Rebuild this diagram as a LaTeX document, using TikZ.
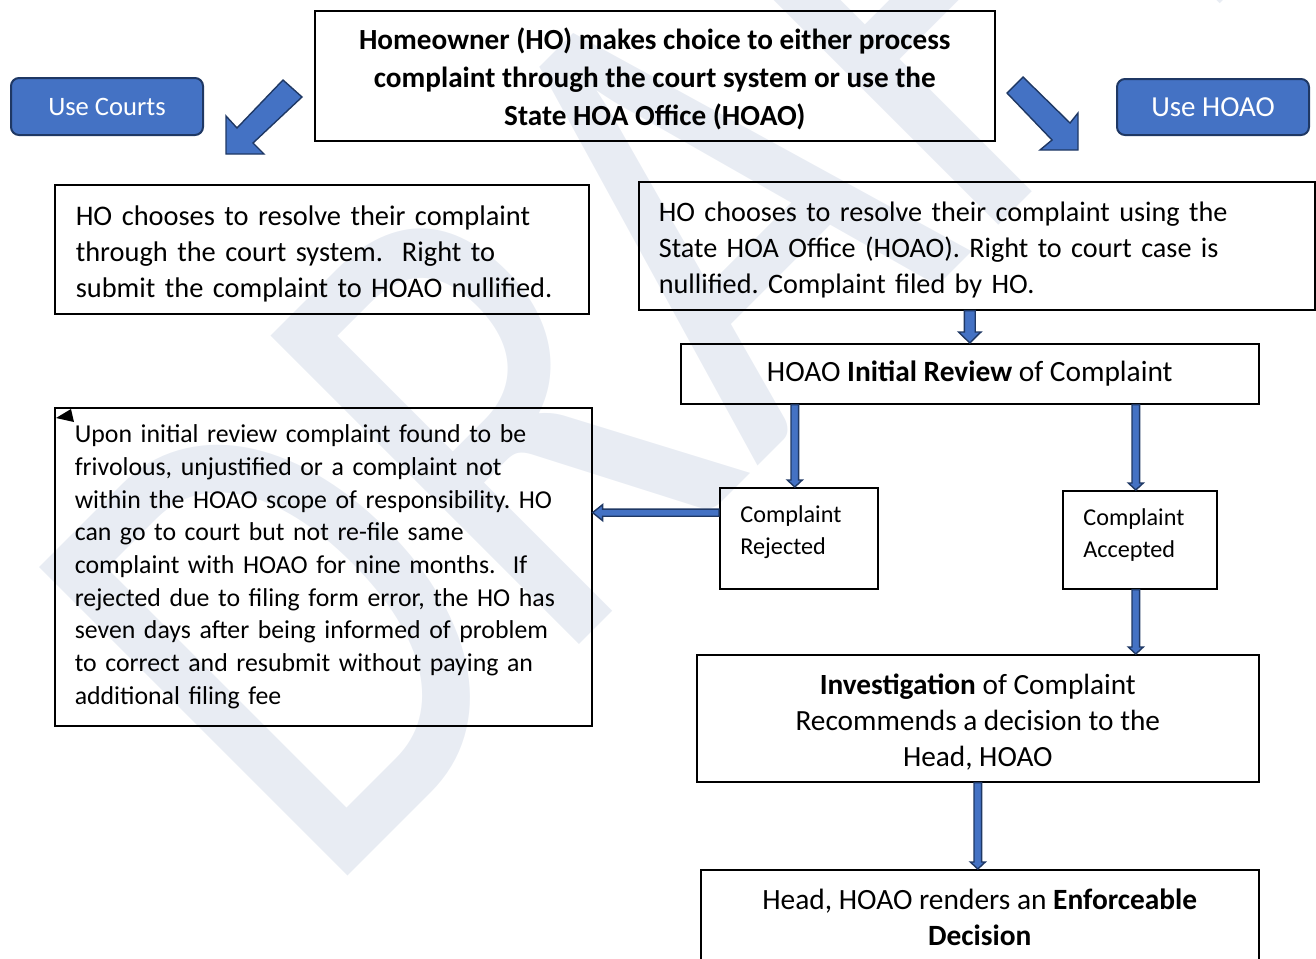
\documentclass[tikz,border=0pt]{standalone}
\usepackage{fontspec}
\setmainfont{Carlito}
\newfontfamily\wmfont{Carlito}
\frenchspacing
\usetikzlibrary{calc}
\definecolor{wordblue}{HTML}{4472C4}
\definecolor{navy}{HTML}{1F3864}
\definecolor{wmcol}{HTML}{E8ECF3}
\newcommand\tstrut{\rule{0pt}{14pt}}
\newcommand\vArrow[6]{\draw[barrow] let \p1=#1, \p2=#2, \p3=#3 in
  (\x1-#4,\y2) -- (\x1-#4,\y3+#6) -- (\x1-#5,\y3+#6) -- (\x1,\y3) -- (\x1+#5,\y3+#6) -- (\x1+#4,\y3+#6) -- (\x1+#4,\y2) -- cycle;}
\newcommand\hArrow[6]{\draw[barrow] let \p1=#1, \p2=#2, \p3=#3 in
  (\x2,\y1-#4) -- (\x3+#6,\y1-#4) -- (\x3+#6,\y1-#5) -- (\x3,\y1) -- (\x3+#6,\y1+#5) -- (\x3+#6,\y1+#4) -- (\x2,\y1+#4) -- cycle;}
\tikzset{
  barrow/.style={fill=wordblue, draw=navy, line width=0.7pt, line join=miter},
  box/.style={draw=black, line width=0.8pt, inner sep=0pt, anchor=north west},
  pill/.style={fill=wordblue, draw=navy, line width=1pt, rounded corners=4pt, text=white,
     anchor=north west, inner sep=0pt},
  smalltxt/.style={font=\fontsize{12.1}{16}\selectfont, align=left, anchor=north west, inner sep=0pt},
}
\begin{document}
\begin{tikzpicture}[x=0.5pt,y=-0.5pt]
\useasboundingbox (0,0) rectangle (1316,958);
\clip (0,0) rectangle (1316,958);
% watermark
\node[rotate=45, xscale=0.78, anchor=base west, text=wmcol, inner sep=0pt, font=\wmfont\fontsize{340}{340}\selectfont] (wm) at (322,902) {DRAFT};

% top box
\node[box, minimum width=340pt, minimum height=65pt, align=center, font=\bfseries\fontsize{14.6}{19}\selectfont] (top) at (314,10)
  {\tstrut Homeowner (HO) makes choice to either process\\complaint through the court system or use the\\State HOA Office (HOAO)};
\node[pill, minimum width=96pt, minimum height=28.5pt, font=\fontsize{13.3}{16}\selectfont] (uc) at (10,77) {Use Courts};
\node[pill, minimum width=96pt, minimum height=28pt, font=\fontsize{14.5}{16}\selectfont] (uh) at (1116,78) {Use HOAO};

% diagonal block arrows
\draw[barrow] (283,80) -- (302,97) -- (253,143) -- (264,154) -- (226,154) -- (226,116) -- (237,128) -- cycle;
\draw[barrow] (1007,93) -- (1052,140) -- (1040,150) -- (1078,150) -- (1078,113) -- (1070,123) -- (1023,77) -- cycle;

% left court box
\node[box, font=\fontsize{14.2}{18}\selectfont, minimum width=267pt, minimum height=64.5pt, text width=246pt, inner xsep=10.5pt, align=left] (a) at (54,184)
  {\tstrut HO chooses to resolve their complaint\\through the court system.~ Right to\\submit the complaint to HOAO nullified.};
% right HOAO box
\node[box, font=\fontsize{14.1}{18}\selectfont, minimum width=338pt, minimum height=64pt, text width=318pt, inner xsep=10pt, align=left] (b) at (638,181)
  {\tstrut HO chooses to resolve their complaint using the\\State HOA Office (HOAO). Right to court case is\\nullified. Complaint filed by HO.};
% initial review
\node[box, font=\fontsize{14.7}{18}\selectfont, minimum width=289pt, minimum height=30pt, align=center] (ir) at (680,343)
  {HOAO \textbf{Initial Review} of Complaint};
% rejected / accepted
\node[box, minimum width=79pt, minimum height=50.5pt] (rej) at (719,487) {};
\node[smalltxt] (rejt) at (740,505) {Complaint\\Rejected};
\node[box, minimum width=77pt, minimum height=49pt] (acc) at (1062,490) {};
\node[smalltxt] (acct) at (1083,508) {Complaint\\Accepted};
% rejection text box
\node[box, font=\fontsize{12.9}{16.35}\selectfont, minimum width=268.5pt, minimum height=159pt, text width=248.5pt, inner xsep=10pt, align=left] (c) at (54,407)
  {Upon initial review complaint found to be\\frivolous, unjustified or a complaint not\\within the HOAO scope of responsibility. HO\\can go to court but not re-file same\\complaint with HOAO for nine months.~ If\\rejected due to filing form error, the HO has\\seven days after being informed of problem\\to correct and resubmit without paying an\\additional filing fee};
\fill[black] (56,418) -- (71,409) -- (74,422) -- cycle;
% investigation
\node[box, font=\fontsize{14.65}{18}\selectfont, minimum width=281pt, minimum height=63.5pt, align=center] (inv) at (696,654)
  {\tstrut\textbf{Investigation} of Complaint\\Recommends a decision to the\\Head, HOAO};
% head decision
\node[box, font=\fontsize{14.7}{18}\selectfont, minimum width=279pt, minimum height=47pt, align=center] (head) at (700,869)
  {Head, HOAO renders an \textbf{Enforceable}\\\textbf{Decision}};

% connectors
\vArrow{(ir.north)}{(b.south)}{(ir.north)}{2.7pt}{5.6pt}{5.5pt}
\vArrow{([xshift=-2pt]rej.north)}{(ir.south)}{(rej.north)}{1.9pt}{3.75pt}{3.5pt}
\vArrow{([xshift=-2pt]acc.north)}{(ir.south)}{(acc.north)}{1.9pt}{3.75pt}{3.5pt}
\vArrow{([xshift=-2pt]acc.south)}{(acc.south)}{(inv.north)}{1.9pt}{3.75pt}{3.5pt}
\vArrow{(inv.south)}{(inv.south)}{(head.north)}{1.9pt}{3.75pt}{3.5pt}
\hArrow{($(rej.north west)!0.25!(rej.south west)$)}{(rej.west)}{(c.east)}{1.8pt}{4pt}{5pt}
\end{tikzpicture}
\end{document}
